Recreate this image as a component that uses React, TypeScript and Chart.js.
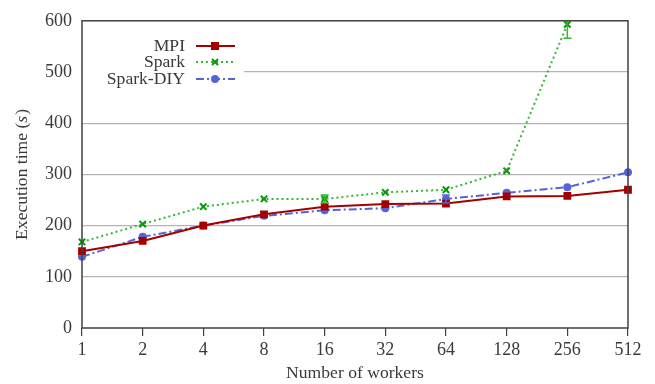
import React, { useEffect, useRef } from 'react';
import { Chart, registerables } from 'chart.js';

Chart.register(...registerables);

const workers = ['1', '2', '4', '8', '16', '32', '64', '128', '256', '512'];
const mpi = [150, 170, 200, 222, 237, 242, 243, 257, 258, 270];
const spark = [168, 203, 237, 252, 252, 265, 270, 307, 593, null];
const sparkDiy = [139, 178, 200, 219, 230, 234, 252, 264, 275, 304];
const sparkErr = [0, 0, 0, 0, 8, 0, 0, 0, 27, 0];
const sparkDiyErr = [0, 0, 0, 0, 0, 0, 8, 0, 0, 0];
const yTicks = [0, 100, 200, 300, 400, 500, 600];

const FONT = "'Liberation Serif', 'Times New Roman', serif";
const TEXT = '#3a3a3a';
const RED = '#a30000';
const GREEN_LINE = '#33b833';
const GREEN = '#0a960a';
const BLUE = '#5464d8';
const TICK_SIZE = 18;
const TITLE_SIZE = 17.6;

export default function App() {
  const ref = useRef<HTMLCanvasElement>(null);

  useEffect(() => {
    const canvas = ref.current!;
    const errs: Record<number, number[]> = { 1: sparkErr, 2: sparkDiyErr };

    const errorBars = {
      id: 'errorBars',
      afterDatasetsDraw(chart: any) {
        const ctx = chart.ctx;
        const ys = chart.scales.y;
        const a = chart.chartArea;
        ctx.save();
        ctx.beginPath();
        ctx.rect(a.left, a.top, a.right - a.left, a.bottom - a.top);
        ctx.clip();
        Object.keys(errs).forEach((k) => {
          const i = Number(k);
          const ds = chart.data.datasets[i];
          const meta = chart.getDatasetMeta(i);
          const e = errs[i];
          ctx.strokeStyle = i === 1 ? GREEN_LINE : BLUE;
          ctx.lineWidth = 1.5;
          e.forEach((err, j) => {
            const v = ds.data[j];
            if (!err || v == null) return;
            const x = meta.data[j].x;
            const y1 = ys.getPixelForValue(v - err);
            const y2 = ys.getPixelForValue(v + err);
            ctx.beginPath();
            ctx.moveTo(x, y1);
            ctx.lineTo(x, y2);
            ctx.moveTo(x - 4, y1);
            ctx.lineTo(x + 4, y1);
            ctx.moveTo(x - 4, y2);
            ctx.lineTo(x + 4, y2);
            ctx.stroke();
          });
        });
        ctx.restore();
      },
    };

    const decor = {
      id: 'decor',
      afterDatasetsDraw(chart: any) {
        const ctx = chart.ctx;
        const a = chart.chartArea;
        ctx.save();
        // legend
        ctx.fillStyle = '#ffffff';
        ctx.fillRect(a.left + 1, 36, 244 - a.left - 1, 52);
        const rows = [
          { label: 'MPI', y: 46, color: RED, dash: [] as number[], marker: 'rect', mc: RED },
          { label: 'Spark', y: 62, color: GREEN_LINE, dash: [2, 3], marker: 'cross', mc: GREEN },
          { label: 'Spark-DIY', y: 79, color: BLUE, dash: [8, 3, 2, 3], marker: 'circle', mc: BLUE },
        ];
        ctx.font = `${TITLE_SIZE}px ${FONT}`;
        ctx.textAlign = 'right';
        ctx.textBaseline = 'middle';
        rows.forEach((r) => {
          ctx.fillStyle = TEXT;
          ctx.fillText(r.label, 185, r.y);
          ctx.strokeStyle = r.color;
          ctx.lineWidth = 2;
          ctx.setLineDash(r.dash);
          ctx.beginPath();
          ctx.moveTo(196, r.y);
          ctx.lineTo(235, r.y);
          ctx.stroke();
          ctx.setLineDash([]);
          const mx = 215;
          if (r.marker === 'rect') {
            ctx.fillStyle = r.mc;
            ctx.fillRect(mx - 4, r.y - 4, 8, 8);
          } else if (r.marker === 'circle') {
            ctx.fillStyle = r.mc;
            ctx.beginPath();
            ctx.arc(mx, r.y, 4, 0, Math.PI * 2);
            ctx.fill();
          } else {
            ctx.strokeStyle = r.mc;
            ctx.lineWidth = 2;
            ctx.beginPath();
            ctx.moveTo(mx - 3, r.y - 3);
            ctx.lineTo(mx + 3, r.y + 3);
            ctx.moveTo(mx + 3, r.y - 3);
            ctx.lineTo(mx - 3, r.y + 3);
            ctx.stroke();
          }
        });
        // frame
        ctx.strokeStyle = '#404040';
        ctx.lineWidth = 1.5;
        ctx.strokeRect(a.left, a.top, a.right - a.left, a.bottom - a.top);
        // y title
        const cx = 22;
        const cy = (a.top + a.bottom) / 2;
        const p1 = 'Execution time (';
        const p2 = 's';
        const p3 = ')';
        const nf = `${TITLE_SIZE}px ${FONT}`;
        const itf = `italic ${TITLE_SIZE}px ${FONT}`;
        ctx.font = nf;
        const w1 = ctx.measureText(p1).width;
        const w3 = ctx.measureText(p3).width;
        ctx.font = itf;
        const w2 = ctx.measureText(p2).width + 1;
        const total = w1 + w2 + w3;
        ctx.translate(cx, cy);
        ctx.rotate(-Math.PI / 2);
        ctx.fillStyle = TEXT;
        ctx.textAlign = 'left';
        ctx.textBaseline = 'middle';
        let x = -total / 2;
        ctx.font = nf;
        ctx.fillText(p1, x, 0);
        x += w1;
        ctx.font = itf;
        ctx.fillText(p2, x, 0);
        x += w2;
        ctx.font = nf;
        ctx.fillText(p3, x, 0);
        ctx.restore();
      },
    };

    const chart = new Chart(canvas, {
      type: 'line',
      data: {
        labels: workers,
        datasets: [
          {
            label: 'MPI',
            data: mpi,
            borderColor: RED,
            backgroundColor: RED,
            borderWidth: 2,
            pointStyle: 'rect',
            pointRadius: 5.5,
            pointBorderWidth: 0,
            pointBackgroundColor: RED,
            tension: 0,
          },
          {
            label: 'Spark',
            data: spark,
            borderColor: GREEN_LINE,
            backgroundColor: GREEN,
            borderWidth: 2,
            borderDash: [2, 3],
            pointStyle: 'crossRot',
            pointRadius: 4.5,
            pointBorderWidth: 2,
            pointBorderColor: GREEN,
            tension: 0,
            spanGaps: false,
          },
          {
            label: 'Spark-DIY',
            data: sparkDiy,
            borderColor: BLUE,
            backgroundColor: BLUE,
            borderWidth: 2,
            borderDash: [8, 3, 2, 3],
            pointStyle: 'circle',
            pointRadius: 4,
            pointBorderWidth: 0,
            pointBackgroundColor: BLUE,
            tension: 0,
          },
        ],
      },
      options: {
        responsive: false,
        animation: false,
        layout: { padding: { left: 0, right: 27, top: 20, bottom: 0 } },
        plugins: {
          legend: { display: false },
          tooltip: { enabled: false },
        },
        scales: {
          x: {
            grid: {
              display: true,
              drawOnChartArea: false,
              drawTicks: true,
              tickLength: 8,
              color: '#404040',
              lineWidth: 1.2,
            },
            border: { display: false },
            ticks: {
              font: { family: FONT, size: TICK_SIZE },
              color: TEXT,
              padding: 3,
              maxRotation: 0,
              autoSkip: false,
            },
            title: {
              display: true,
              text: 'Number of workers',
              font: { family: FONT, size: TITLE_SIZE },
              color: TEXT,
              padding: { top: 0, bottom: 0 },
            },
            afterFit(scale: any) {
              scale.height = 56;
            },
          },
          y: {
            min: 0,
            max: 600,
            afterBuildTicks(scale: any) {
              scale.ticks = yTicks.map((v) => ({ value: v }));
            },
            ticks: {
              font: { family: FONT, size: TICK_SIZE },
              color: TEXT,
              padding: 10,
            },
            grid: {
              color: (c: any) =>
                c.tick && (c.tick.value === 0 || c.tick.value === 600) ? 'rgba(0,0,0,0)' : '#b4b4b4',
              drawTicks: false,
              lineWidth: 1.2,
            },
            border: { display: false },
            afterFit(scale: any) {
              scale.width = 82;
            },
          },
        },
      },
      plugins: [errorBars, decor],
    } as any);

    return () => chart.destroy();
  }, []);

  return (
    <div style={{ position: 'fixed', left: 0, top: 0, width: 655, height: 384, background: '#fff' }}>
      <canvas ref={ref} width={655} height={384} style={{ width: 655, height: 384, display: 'block' }} />
    </div>
  );
}
